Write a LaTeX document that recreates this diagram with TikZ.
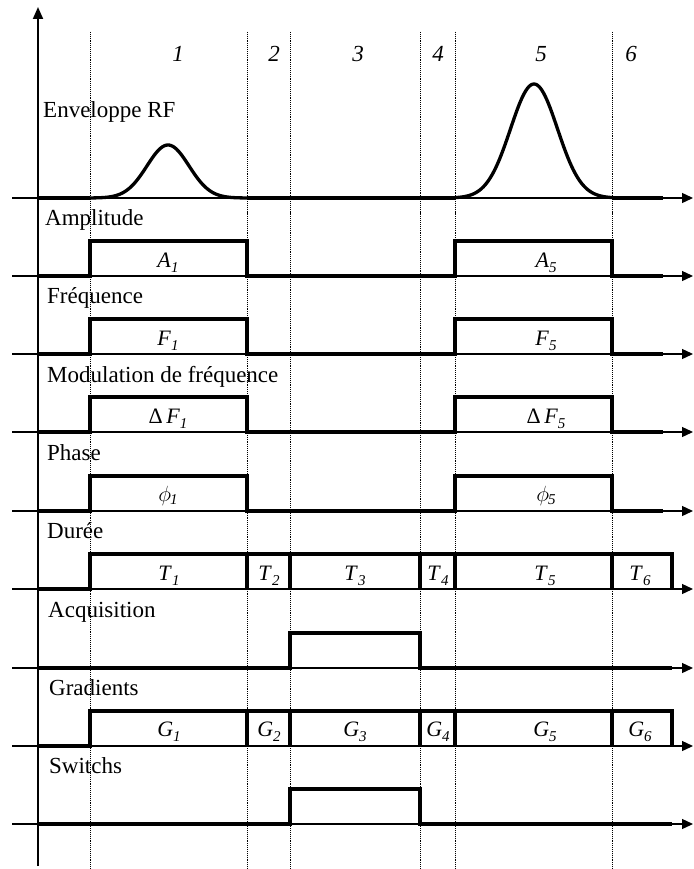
\RequirePackage{fix-cm}
\documentclass[tikz,border=0pt]{standalone}
\usepackage{fontspec}
\setmainfont{Liberation Serif}
\usetikzlibrary{arrows.meta}
\newcommand\plabel[2]{\textit{#1}\raisebox{-5pt}{\fontsize{15}{15}\selectfont\textit{#2}}}
\tikzset{
  thinl/.style={line width=1.3pt},
  thickl/.style={line width=3.3pt, line join=miter},
  axisarrow/.style={thinl, -{Triangle[length=11pt,width=10pt]}},
  dotline/.style={line width=1pt, dash pattern=on 1pt off 0.9pt},
  rowlab/.style={anchor=base west, inner sep=0pt, font=\fontsize{23}{23}\selectfont},
  numlab/.style={anchor=base, inner sep=0pt, font=\fontsize{23}{23}\selectfont\itshape},
  plab/.style={anchor=base, inner sep=0pt, font=\fontsize{22}{22}\selectfont},
}
\begin{document}
\begin{tikzpicture}[x=1pt,y=-1pt]
\useasboundingbox (0,0) rectangle (693,869);
% dotted separators
\foreach \dx in {90,247,290,420,455,612}
  \draw[dotline] (\dx,32) -- (\dx,869);
% vertical axis
\draw[line width=1.9pt, -{Triangle[length=12pt,width=10pt]}] (38,866) -- (38,7);
% thin baselines with arrows
\foreach \ry in {198,276,354,432,511,589,668,746,824}
  \draw[axisarrow] (12,\ry) -- (693,\ry);
% RF envelope
\draw[thickl] (38,198) -- (90,198);
\draw[thickl] (247,198) -- (455,198);
\draw[thickl] (612,198) -- (663,198);
\draw[thickl] plot[domain=90:247, samples=90, smooth] (\x, {198 - 53*exp(-((\x-168)/21)^2/2)});
\draw[thickl] plot[domain=455:612, samples=90, smooth] (\x, {198 - 114*exp(-((\x-534)/23.5)^2/2)});
% pulse rows
\foreach \ry in {276,354,432,511}{
  \draw[thickl] (38,\ry) -- (90,\ry) -- (90,\ry-35) -- (247,\ry-35) -- (247,\ry) -- (455,\ry) -- (455,\ry-35) -- (612,\ry-35) -- (612,\ry) -- (663,\ry);
}
% Duree and Gradients
\foreach \ry in {589,746}{
  \draw[thickl] (38,\ry) -- (90,\ry) -- (90,\ry-35) -- (672,\ry-35) -- (672,\ry);
  \foreach \sx in {247,290,420,455,612}
    \draw[thickl] (\sx,\ry-35) -- (\sx,\ry);
}
% Acquisition and Switchs
\foreach \ry in {668,824}{
  \draw[thickl] (38,\ry) -- (290,\ry) -- (290,\ry-35) -- (420,\ry-35) -- (420,\ry) -- (672,\ry);
}
% period numbers
\node[numlab] (n1) at (178,62) {1};
\node[numlab] (n2) at (274,62) {2};
\node[numlab] (n3) at (358,62) {3};
\node[numlab] (n4) at (438,62) {4};
\node[numlab] (n5) at (541,62) {5};
\node[numlab] (n6) at (631,62) {6};
% row labels
\node[rowlab] (lrf) at (43,118) {Enveloppe RF};
\node[rowlab] (lamp) at (45,225) {Amplitude};
\node[rowlab] (lfre) at (47,303) {Fréquence};
\node[rowlab] (lmod) at (47,382) {Modulation de fréquence};
\node[rowlab] (lpha) at (47,460) {Phase};
\node[rowlab] (ldur) at (47,538) {Durée};
\node[rowlab] (lacq) at (48,617) {Acquisition};
\node[rowlab] (lgra) at (49,695) {Gradients};
\node[rowlab] (lswi) at (49,773) {Switchs};
% pulse labels
\node[plab] (a1) at (168,267) {\plabel{A}{1}};
\node[plab] (a5) at (546,267) {\plabel{A}{5}};
\node[plab] (f1) at (168,345) {\plabel{F}{1}};
\node[plab] (f5) at (546,345) {\plabel{F}{5}};
\node[plab] (df1) at (168,423) {Δ\,\plabel{F}{1}};
\node[plab] (df5) at (546,423) {Δ\,\plabel{F}{5}};
\node[plab] (p1) at (168,501) {$\phi$\kern-1pt\raisebox{-3pt}{\fontsize{15}{15}\selectfont\textit{1}}};
\node[plab] (p5) at (546,501) {$\phi$\kern-1pt\raisebox{-3pt}{\fontsize{15}{15}\selectfont\textit{5}}};
\node[plab] (t1) at (169,580) {\plabel{T}{1}};
\node[plab] (t2) at (269,580) {\plabel{T}{2}};
\node[plab] (t3) at (355,580) {\plabel{T}{3}};
\node[plab] (t4) at (438,580) {\plabel{T}{4}};
\node[plab] (t5) at (545,580) {\plabel{T}{5}};
\node[plab] (t6) at (640,580) {\plabel{T}{6}};
\node[plab] (g1) at (169,736) {\plabel{G}{1}};
\node[plab] (g2) at (269,736) {\plabel{G}{2}};
\node[plab] (g3) at (355,736) {\plabel{G}{3}};
\node[plab] (g4) at (438,736) {\plabel{G}{4}};
\node[plab] (g5) at (545,736) {\plabel{G}{5}};
\node[plab] (g6) at (640,736) {\plabel{G}{6}};
\end{tikzpicture}
\end{document}
